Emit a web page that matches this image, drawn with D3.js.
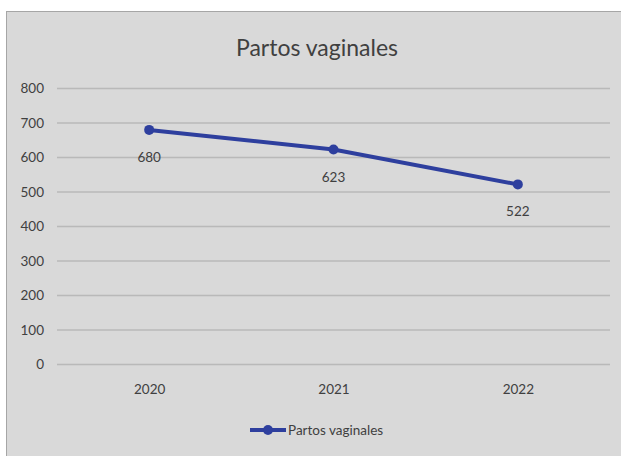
<!DOCTYPE html>
<html>
<head>
<meta charset="utf-8">
<script src="https://cdn.jsdelivr.net/npm/d3@7"></script>
<style>
  html, body { margin: 0; padding: 0; background: #ffffff; }
  svg { display: block; }
  text { font-family: Lato, "Open Sans", sans-serif; fill: #404040; }
</style>
</head>
<body>
<svg id="chart" width="621" height="456"></svg>
<script>
// Series data
const years = ["2020", "2021", "2022"];
const partosVaginales = [680, 623, 522];
const yTicks = [0, 100, 200, 300, 400, 500, 600, 700, 800];
const chartTitle = "Partos vaginales";
const seriesName = "Partos vaginales";

const svg = d3.select("#chart");
const W = 621, H = 456;

// Chart panel
svg.append("rect")
  .attr("x", 6.5).attr("y", 11.5)
  .attr("width", W - 6).attr("height", H - 11)
  .attr("fill", "#d9d9d9")
  .attr("stroke", "#a6a6a6")
  .attr("stroke-width", 1);

const plot = { left: 57, right: 610, top: 88.5, bottom: 364.5 };

const x = d3.scalePoint()
  .domain(years)
  .range([plot.left, plot.right])
  .padding(0.5);

const y = d3.scaleLinear()
  .domain([0, 800])
  .range([plot.bottom, plot.top]);

// Title
svg.append("text")
  .attr("x", 317).attr("y", 56)
  .attr("text-anchor", "middle")
  .style("font-size", "23px")
  .text(chartTitle);

// Horizontal gridlines
svg.append("g")
  .selectAll("line")
  .data(yTicks)
  .join("line")
  .attr("x1", plot.left).attr("x2", plot.right)
  .attr("y1", d => y(d)).attr("y2", d => y(d))
  .attr("stroke", "#b9b9b9")
  .attr("stroke-width", 1.5);

// Y axis labels
const yAxis = d3.axisLeft(y).tickValues(yTicks).tickSize(0).tickPadding(0);
const gy = svg.append("g")
  .attr("transform", `translate(${plot.left - 13},0)`)
  .call(yAxis);
gy.select(".domain").remove();
gy.selectAll("text")
  .style("font-size", "13.5px")
  .style("font-family", "Lato, 'Open Sans', sans-serif")
  .attr("fill", "#404040");

// X axis labels
const xAxis = d3.axisBottom(x).tickSize(0).tickPadding(0);
const gx = svg.append("g")
  .attr("transform", `translate(0,${plot.bottom + 20})`)
  .call(xAxis);
gx.select(".domain").remove();
gx.selectAll("text")
  .style("font-size", "13.5px")
  .style("font-family", "Lato, 'Open Sans', sans-serif")
  .attr("fill", "#404040");

const data = years.map((yr, i) => ({ year: yr, value: partosVaginales[i] }));
const lineColor = "#2e3f9e";

// Series line
const line = d3.line()
  .x(d => x(d.year))
  .y(d => y(d.value));

svg.append("path")
  .datum(data)
  .attr("d", line)
  .attr("fill", "none")
  .attr("stroke", lineColor)
  .attr("stroke-width", 4)
  .attr("stroke-linejoin", "round");

// Markers
svg.append("g")
  .selectAll("circle")
  .data(data)
  .join("circle")
  .attr("cx", d => x(d.year))
  .attr("cy", d => y(d.value))
  .attr("r", 5)
  .attr("fill", lineColor);

// Value labels below each point
svg.append("g")
  .selectAll("text")
  .data(data)
  .join("text")
  .attr("x", d => x(d.year))
  .attr("y", d => y(d.value) + 32)
  .attr("text-anchor", "middle")
  .style("font-size", "13.5px")
  .text(d => d.value);

// Legend
const lg = svg.append("g").attr("transform", "translate(250,430)");
lg.append("line")
  .attr("x1", 0).attr("x2", 36)
  .attr("y1", 0).attr("y2", 0)
  .attr("stroke", lineColor)
  .attr("stroke-width", 4);
lg.append("circle")
  .attr("cx", 18).attr("cy", 0).attr("r", 5)
  .attr("fill", lineColor);
lg.append("text")
  .attr("x", 38).attr("y", 4.5)
  .style("font-size", "13.5px")
  .text(seriesName);
</script>
</body>
</html>
